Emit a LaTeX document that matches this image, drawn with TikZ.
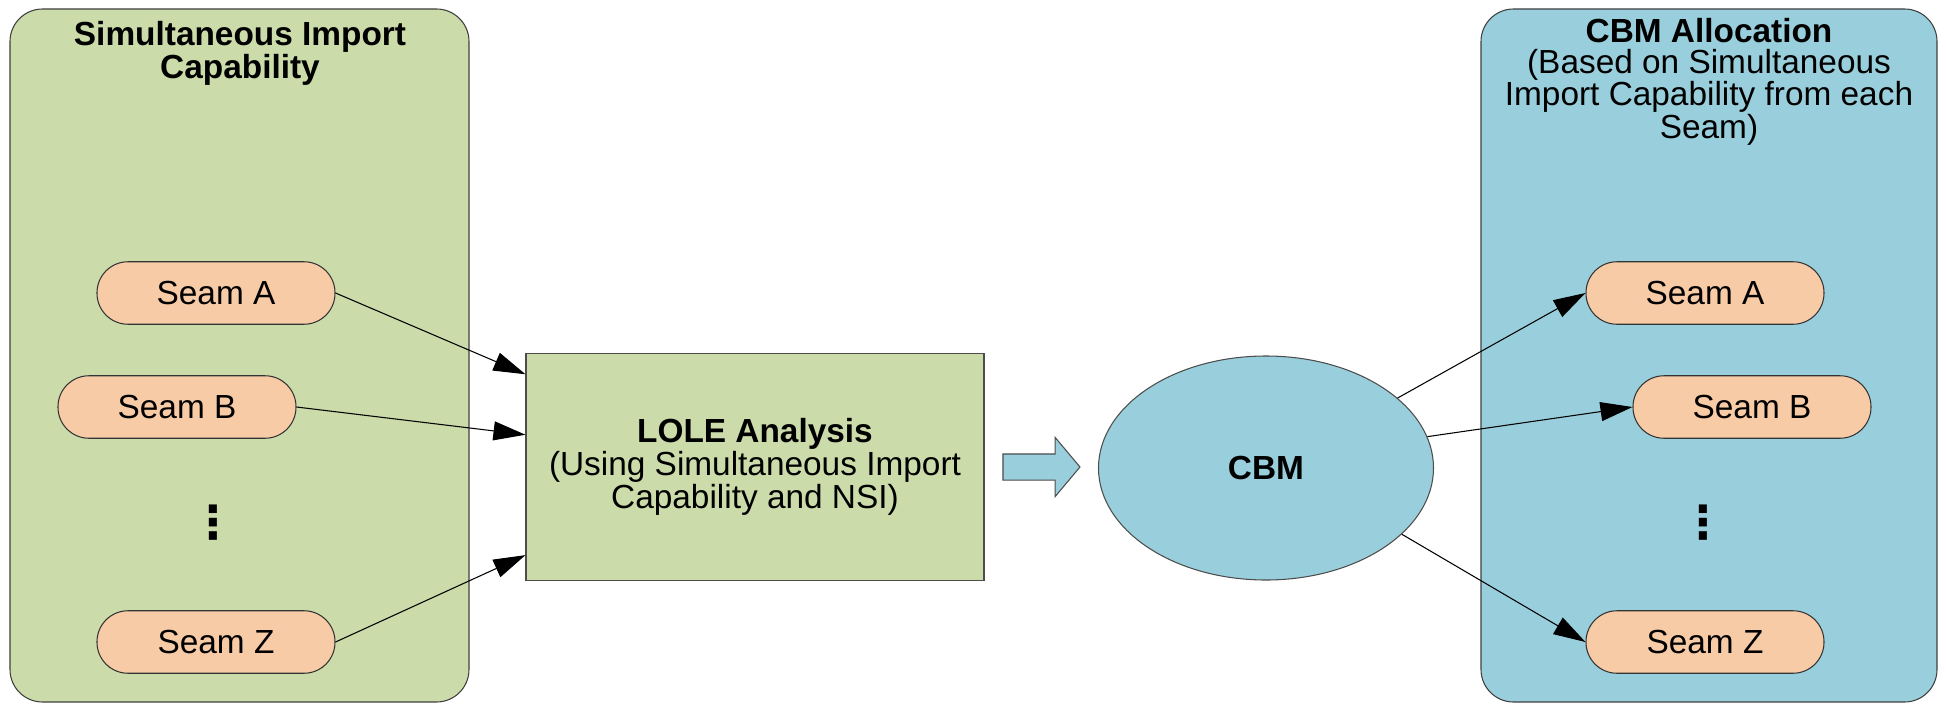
\documentclass[tikz,border=0pt]{standalone}
\usepackage{fontspec}
\setmainfont{Liberation Sans}
\newfontfamily\dotsfont{DejaVu Sans}
\usetikzlibrary{shapes.geometric,shapes.arrows,arrows.meta,positioning}
\definecolor{panelgreen}{RGB}{203,219,169}
\definecolor{panelblue}{RGB}{153,207,220}
\definecolor{seampeach}{RGB}{248,203,167}
\newcommand{\diagfont}{\fontsize{19}{17.4}\selectfont}
\tikzset{panel/.style={rectangle,draw=black!75,line width=0.6pt,rounded corners=6.5mm,minimum height=138.6mm},
         paneltitle/.style={align=center,font=\diagfont,inner sep=0pt},
         seam/.style={rectangle,rounded corners=6.2mm,fill=seampeach,draw=black!80,line width=0.6pt,minimum width=47.6mm,minimum height=12.5mm,font=\diagfont},
         seamdots/.style={font=\dotsfont\fontsize{26}{28}\bfseries\selectfont,inner sep=0pt},
         analysis/.style={rectangle,fill=panelgreen,draw=black!70,line width=0.6pt,minimum width=91.6mm,minimum height=45.4mm,align=center,font=\diagfont},
         flow/.style={single arrow,fill=panelblue,draw=black!70,line width=0.6pt,minimum height=15.4mm,inner sep=2.5mm,single arrow head extend=3.3mm,single arrow tip angle=100},
         cbm node/.style={ellipse,fill=panelblue,draw=black!70,line width=0.6pt,minimum width=67mm,minimum height=44.8mm,font=\diagfont}
}

\begin{document}
\begin{tikzpicture}[x=0.2mm,y=-0.2mm,
>={Triangle[length=6.4mm,width=3.8mm]}]
\useasboundingbox (0,0) rectangle (1946,705);

% left side: seams feeding the analysis
\node[panel,fill=panelgreen,minimum width=91.8mm] (simpanel) at (239.5,355.5) {};
\node[paneltitle,font=\diagfont\bfseries] (simtitle) at (240,53) {Simultaneous Import\\Capability};
\node[seam] (sa) at (216,293) {Seam A};
\node[seam] (sb) at (177,407) {Seam B};
\node[seamdots] (sdots) at (213,523) {⋮};
\node[seam] (sz) at (216,642) {Seam Z};

\node[analysis] (lole) at (755,467) {\textbf{LOLE Analysis}\\(Using Simultaneous Import\\Capability and NSI)};
\node[flow] (flowarrow) at (1036,467) {};
\node[cbm node] (cbm) at (1266,468) {\textbf{CBM}};

% right side: allocation per seam
\node[panel,fill=panelblue,minimum width=91.2mm] (allocpanel) at (1709,355.5) {};
\node[paneltitle] (alloctitle) at (1709,82) {\textbf{CBM Allocation}\\(Based on Simultaneous\\Import Capability from each\\Seam)};
\node[seam] (ra) at (1705,293) {Seam A};
\node[seam] (rb) at (1752,407) {Seam B};
\node[seamdots] (rdots) at (1703,523) {⋮};
\node[seam] (rz) at (1705,642) {Seam Z};

\draw[->,line width=0.6pt] (sa.east) -- (lole.158.8);
\draw[->,line width=0.6pt] (sb.east) -- (lole.172.5);
\draw[->,line width=0.6pt] (sz.east) -- (lole.201);
\draw[->,line width=0.6pt] (cbm.28) -- (ra.west);
\draw[->,line width=0.6pt] (cbm.11) -- (rb.west);
\draw[->,line width=0.6pt] (cbm.-26) -- (rz.west);
\end{tikzpicture}
\end{document}
